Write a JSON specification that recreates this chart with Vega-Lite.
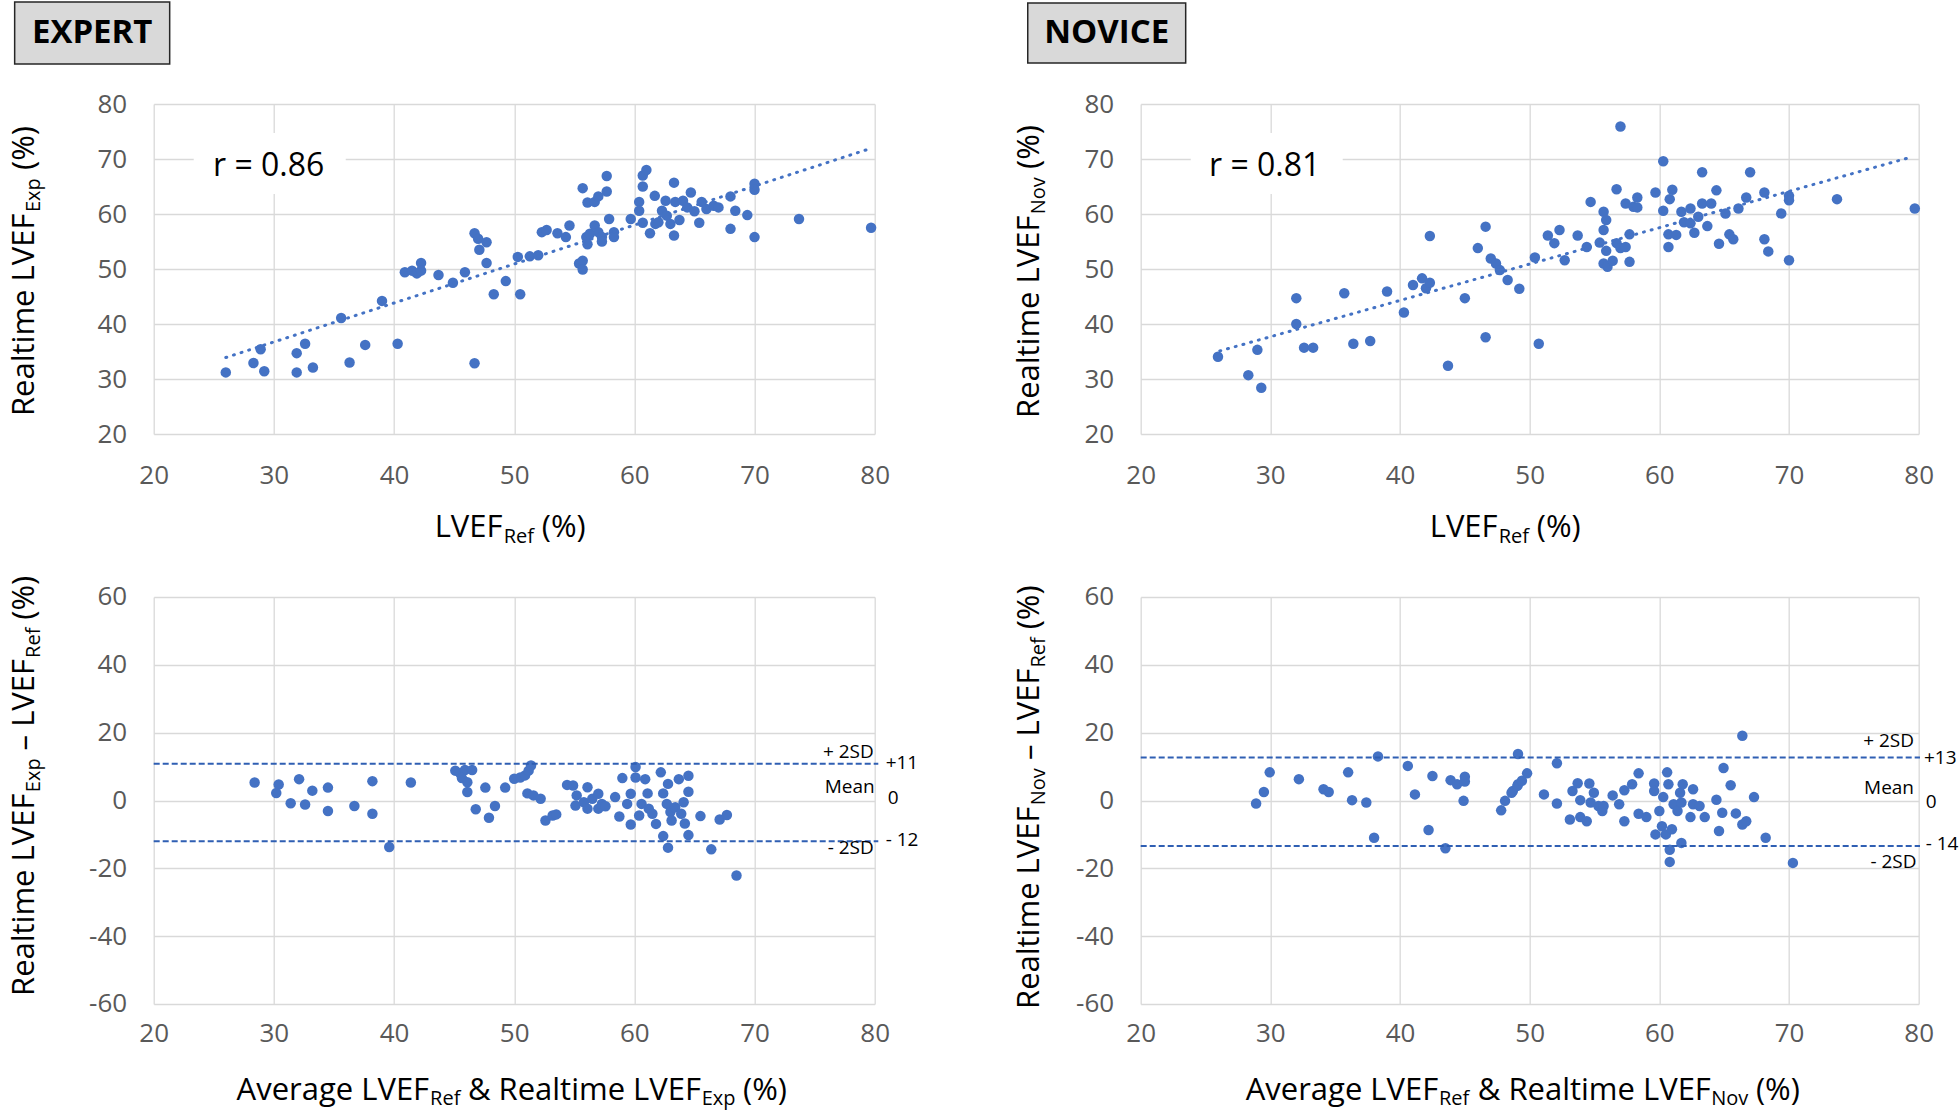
{
"$schema": "https://vega.github.io/schema/vega-lite/v6.json",
"background": "white",
"padding": {"left": 8.7, "top": 1, "right": 0, "bottom": 0},
"config": {
  "font": "Open Sans",
  "view": {"stroke": null},
  "axis": {"grid": true, "gridColor": "#d9d9d9", "gridWidth": 1.3, "ticks": false, "tickSize": 0, "domain": false, "labelFont": "Open Sans", "labelFontSize": 26, "labelColor": "#595959", "labelFlush": false, "labelOverlap": false},
  "axisY": {"labelPadding": 27}
},
"datasets": {
"tl": [{"x":26.0,"y":31.2},{"x":28.3,"y":32.9},{"x":28.9,"y":35.4},{"x":29.2,"y":31.4},{"x":31.9,"y":31.2},{"x":31.9,"y":34.7},{"x":32.6,"y":36.4},{"x":33.25,"y":32.1},{"x":35.6,"y":41.1},{"x":36.3,"y":33.0},{"x":37.6,"y":36.2},{"x":39.0,"y":44.2},{"x":40.3,"y":36.4},{"x":40.9,"y":49.4},{"x":41.5,"y":49.7},{"x":41.9,"y":49.2},{"x":42.25,"y":51.1},{"x":42.25,"y":49.7},{"x":43.7,"y":48.9},{"x":44.9,"y":47.5},{"x":45.9,"y":49.4},{"x":46.7,"y":56.5},{"x":47.0,"y":55.5},{"x":47.7,"y":54.85},{"x":47.1,"y":53.5},{"x":47.7,"y":51.1},{"x":48.3,"y":45.4},{"x":49.3,"y":47.8},{"x":50.3,"y":52.2},{"x":50.5,"y":45.4},{"x":46.7,"y":32.85},{"x":51.3,"y":52.3},{"x":52.0,"y":52.5},{"x":52.3,"y":56.7},{"x":52.7,"y":57.1},{"x":53.6,"y":56.5},{"x":54.3,"y":55.8},{"x":54.6,"y":57.9},{"x":55.4,"y":51.0},{"x":55.7,"y":51.5},{"x":55.7,"y":49.9},{"x":55.7,"y":64.7},{"x":56.1,"y":62.1},{"x":56.7,"y":62.2},{"x":57.0,"y":63.2},{"x":57.7,"y":64.1},{"x":57.7,"y":66.9},{"x":56.0,"y":55.8},{"x":56.1,"y":54.5},{"x":56.3,"y":56.4},{"x":56.7,"y":57.9},{"x":57.0,"y":56.7},{"x":57.3,"y":55.8},{"x":57.3,"y":55.0},{"x":58.3,"y":56.7},{"x":58.3,"y":55.8},{"x":57.9,"y":59.1},{"x":59.7,"y":59.1},{"x":60.4,"y":62.2},{"x":60.4,"y":60.6},{"x":60.7,"y":65.0},{"x":60.7,"y":67.0},{"x":61.0,"y":68.0},{"x":60.7,"y":58.4},{"x":61.3,"y":56.5},{"x":61.7,"y":63.3},{"x":61.75,"y":58.2},{"x":62.0,"y":58.5},{"x":62.3,"y":60.6},{"x":62.6,"y":62.4},{"x":62.7,"y":59.7},{"x":63.0,"y":58.2},{"x":63.3,"y":65.7},{"x":63.3,"y":56.1},{"x":63.4,"y":62.2},{"x":63.75,"y":58.9},{"x":64.05,"y":62.4},{"x":64.4,"y":61.2},{"x":64.7,"y":63.9},{"x":65.0,"y":60.5},{"x":65.4,"y":58.4},{"x":65.6,"y":62.2},{"x":66.0,"y":60.9},{"x":66.6,"y":61.5},{"x":67.0,"y":61.2},{"x":68.0,"y":63.2},{"x":68.0,"y":57.3},{"x":68.4,"y":60.6},{"x":69.4,"y":59.8},{"x":70.0,"y":65.5},{"x":70.0,"y":64.4},{"x":70.0,"y":55.8},{"x":73.7,"y":59.1},{"x":79.7,"y":57.5}],
"tr": [{"x":25.96,"y":34.06},{"x":28.3,"y":30.7},{"x":29.0,"y":35.3},{"x":29.3,"y":28.4},{"x":32.0,"y":44.7},{"x":32.0,"y":40.0},{"x":32.6,"y":35.7},{"x":33.3,"y":35.7},{"x":35.7,"y":45.6},{"x":36.4,"y":36.4},{"x":37.7,"y":36.9},{"x":39.0,"y":45.9},{"x":40.3,"y":42.1},{"x":41.0,"y":47.1},{"x":41.7,"y":48.3},{"x":42.0,"y":46.5},{"x":42.3,"y":47.5},{"x":42.3,"y":56.0},{"x":43.7,"y":32.4},{"x":45.0,"y":44.7},{"x":46.0,"y":53.8},{"x":46.6,"y":57.7},{"x":46.6,"y":37.6},{"x":47.0,"y":51.9},{"x":47.4,"y":51.0},{"x":47.7,"y":49.8},{"x":48.3,"y":48.0},{"x":49.2,"y":46.4},{"x":50.4,"y":52.1},{"x":50.7,"y":36.4},{"x":51.4,"y":56.1},{"x":51.9,"y":54.7},{"x":52.3,"y":57.1},{"x":52.7,"y":51.6},{"x":53.7,"y":56.1},{"x":54.4,"y":54.0},{"x":54.7,"y":62.2},{"x":55.4,"y":54.8},{"x":55.7,"y":60.4},{"x":55.7,"y":57.1},{"x":55.9,"y":58.9},{"x":55.9,"y":53.3},{"x":55.7,"y":51.0},{"x":56.0,"y":50.4},{"x":56.4,"y":51.5},{"x":56.7,"y":54.7},{"x":57.0,"y":75.9},{"x":56.7,"y":64.5},{"x":57.0,"y":53.8},{"x":57.4,"y":61.9},{"x":57.4,"y":54.0},{"x":57.7,"y":56.3},{"x":57.7,"y":51.3},{"x":58.0,"y":61.3},{"x":58.3,"y":63.0},{"x":58.3,"y":61.2},{"x":59.7,"y":63.9},{"x":60.3,"y":69.6},{"x":60.3,"y":60.6},{"x":60.7,"y":56.3},{"x":60.7,"y":54.0},{"x":60.8,"y":62.7},{"x":61.0,"y":64.4},{"x":61.3,"y":56.2},{"x":61.7,"y":60.4},{"x":61.9,"y":58.5},{"x":62.4,"y":61.0},{"x":62.4,"y":58.3},{"x":62.7,"y":56.6},{"x":63.0,"y":59.5},{"x":63.3,"y":67.6},{"x":63.3,"y":61.9},{"x":63.7,"y":57.8},{"x":64.0,"y":61.9},{"x":64.4,"y":64.3},{"x":64.6,"y":54.6},{"x":65.1,"y":60.1},{"x":65.4,"y":56.3},{"x":65.7,"y":55.4},{"x":66.1,"y":61.0},{"x":66.7,"y":63.0},{"x":67.0,"y":67.6},{"x":68.1,"y":63.9},{"x":68.1,"y":55.4},{"x":68.4,"y":53.2},{"x":69.4,"y":60.1},{"x":70.0,"y":63.3},{"x":70.0,"y":62.5},{"x":70.0,"y":51.6},{"x":73.7,"y":62.7},{"x":79.7,"y":61.0}],
"bl": [{"x":28.4,"y":5.3},{"x":30.4,"y":4.7},{"x":30.2,"y":2.2},{"x":31.4,"y":-0.8},{"x":32.1,"y":6.3},{"x":32.6,"y":-1.2},{"x":33.2,"y":2.9},{"x":34.5,"y":3.8},{"x":34.5,"y":-3.1},{"x":36.7,"y":-1.6},{"x":38.2,"y":5.7},{"x":38.2,"y":-3.9},{"x":39.6,"y":-13.7},{"x":41.4,"y":5.3},{"x":45.1,"y":8.8},{"x":45.5,"y":8.0},{"x":45.9,"y":9.0},{"x":46.5,"y":9.0},{"x":45.65,"y":6.6},{"x":46.1,"y":5.4},{"x":46.1,"y":2.5},{"x":46.8,"y":-2.6},{"x":47.6,"y":3.8},{"x":48.4,"y":-1.6},{"x":47.9,"y":-5.1},{"x":49.25,"y":3.8},{"x":50.0,"y":6.4},{"x":50.5,"y":6.8},{"x":50.9,"y":7.4},{"x":51.2,"y":8.8},{"x":51.4,"y":10.3},{"x":51.1,"y":2.1},{"x":51.6,"y":1.5},{"x":52.2,"y":0.5},{"x":52.6,"y":-5.9},{"x":53.2,"y":-4.4},{"x":53.5,"y":-4.1},{"x":54.4,"y":4.6},{"x":54.9,"y":4.4},{"x":55.1,"y":-1.5},{"x":55.2,"y":1.5},{"x":56.1,"y":3.9},{"x":55.8,"y":-0.5},{"x":56.1,"y":-2.4},{"x":56.5,"y":0.5},{"x":57.0,"y":2.0},{"x":57.0,"y":-2.4},{"x":57.3,"y":-1.0},{"x":57.6,"y":-1.7},{"x":58.4,"y":1.0},{"x":58.75,"y":-4.7},{"x":59.0,"y":6.6},{"x":59.4,"y":-1.0},{"x":59.7,"y":-7.1},{"x":59.7,"y":2.0},{"x":60.1,"y":9.9},{"x":60.1,"y":6.8},{"x":60.4,"y":-4.4},{"x":60.6,"y":-1.0},{"x":60.9,"y":6.3},{"x":61.1,"y":2.1},{"x":61.2,"y":-2.4},{"x":61.8,"y":-6.9},{"x":61.5,"y":-3.9},{"x":62.2,"y":8.3},{"x":62.4,"y":2.1},{"x":62.4,"y":-10.5},{"x":62.8,"y":4.9},{"x":62.8,"y":-13.9},{"x":62.7,"y":-1.0},{"x":63.0,"y":-3.4},{"x":63.1,"y":-5.9},{"x":63.4,"y":-2.0},{"x":63.7,"y":6.3},{"x":63.9,"y":-3.9},{"x":64.1,"y":-0.5},{"x":64.2,"y":-6.8},{"x":64.5,"y":7.3},{"x":64.5,"y":2.6},{"x":64.5,"y":-10.2},{"x":65.5,"y":-4.6},{"x":66.4,"y":-14.4},{"x":67.1,"y":-5.6},{"x":67.7,"y":-4.3},{"x":68.5,"y":-22.1}],
"br": [{"x":28.9,"y":-0.9},{"x":29.5,"y":2.5},{"x":29.95,"y":8.3},{"x":32.2,"y":6.3},{"x":34.1,"y":3.3},{"x":34.5,"y":2.5},{"x":36.0,"y":8.3},{"x":36.3,"y":0.1},{"x":37.4,"y":-0.6},{"x":38.0,"y":-11.0},{"x":38.3,"y":13.0},{"x":40.6,"y":10.2},{"x":41.15,"y":1.8},{"x":42.2,"y":-8.7},{"x":42.5,"y":7.2},{"x":43.5,"y":-14.1},{"x":43.9,"y":6.0},{"x":44.4,"y":4.8},{"x":45.0,"y":7.0},{"x":45.0,"y":5.6},{"x":44.9,"y":-0.1},{"x":47.8,"y":-2.9},{"x":48.1,"y":-0.1},{"x":48.6,"y":2.3},{"x":49.1,"y":4.8},{"x":49.1,"y":13.7},{"x":48.7,"y":2.8},{"x":49.05,"y":4.3},{"x":49.4,"y":5.8},{"x":49.8,"y":8.0},{"x":51.1,"y":1.8},{"x":52.1,"y":11.0},{"x":52.1,"y":-0.9},{"x":53.1,"y":-5.6},{"x":53.3,"y":2.8},{"x":53.7,"y":5.1},{"x":53.9,"y":-4.9},{"x":53.9,"y":0.1},{"x":54.4,"y":-6.1},{"x":54.6,"y":5.0},{"x":54.7,"y":-0.6},{"x":54.95,"y":2.3},{"x":55.3,"y":-1.6},{"x":55.6,"y":-3.1},{"x":55.7,"y":-1.6},{"x":56.4,"y":1.5},{"x":56.9,"y":-1.1},{"x":57.3,"y":3.0},{"x":57.3,"y":-6.1},{"x":57.9,"y":4.8},{"x":58.4,"y":8.0},{"x":58.4,"y":-3.9},{"x":59.0,"y":-4.9},{"x":59.6,"y":5.0},{"x":59.6,"y":2.8},{"x":59.7,"y":-10.0},{"x":60.0,"y":-3.1},{"x":60.3,"y":1.0},{"x":60.2,"y":-7.6},{"x":60.5,"y":-10.0},{"x":60.6,"y":8.3},{"x":60.7,"y":4.8},{"x":60.8,"y":-14.5},{"x":60.8,"y":-18.1},{"x":60.97,"y":-8.5},{"x":61.1,"y":-1.1},{"x":61.4,"y":-3.1},{"x":61.6,"y":2.3},{"x":61.7,"y":-12.5},{"x":61.8,"y":4.8},{"x":61.7,"y":-0.6},{"x":62.4,"y":-4.9},{"x":62.6,"y":3.3},{"x":62.6,"y":-1.1},{"x":63.1,"y":-1.6},{"x":63.5,"y":-4.9},{"x":64.4,"y":0.2},{"x":64.6,"y":-9.0},{"x":64.85,"y":-3.6},{"x":64.95,"y":9.6},{"x":65.5,"y":4.5},{"x":65.9,"y":-3.8},{"x":66.4,"y":-7.1},{"x":66.7,"y":-6.1},{"x":66.4,"y":19.1},{"x":67.3,"y":1.0},{"x":68.2,"y":-11.0},{"x":70.3,"y":-18.4}],
"ann": [
{"p":"TL","k":"ym","x":10.06,"y":23.27,"t":"Realtime LVEF"},
{"p":"TL","k":"ys","x":10.56,"y":60.36,"t":"Exp"},
{"p":"TL","k":"ym","x":10.06,"y":68.0,"t":"(%)"},
{"p":"TL","k":"tm","x":43.38,"y":1.27,"t":"LVEF"},
{"p":"TL","k":"ts","x":49.13,"y":0.18,"t":"Ref"},
{"p":"TL","k":"tm","x":52.30,"y":1.27,"t":"(%)"},
{"p":"TL","k":"r","x":29.57,"y":68.73,"t":"r = 0.86"},
{"p":"TL","k":"wb","x":23.33,"x2":35.98,"y":74.73,"y2":63.64},
{"p":"TL","k":"bx","x":8.43,"x2":21.33,"y":98.55,"y2":87.27},
{"p":"TL","k":"bt","x":14.88,"y":92.91,"t":"EXPERT"},
{"p":"TL","k":"trend","x":26.0,"y":33.9},
{"p":"TL","k":"trend","x":79.5,"y":71.8},
{"p":"TR","k":"ym","x":12.13,"y":22.91,"t":"Realtime LVEF"},
{"p":"TR","k":"ys","x":12.60,"y":59.96,"t":"Nov"},
{"p":"TR","k":"ym","x":12.13,"y":68.18,"t":"(%)"},
{"p":"TR","k":"tm","x":42.29,"y":1.27,"t":"LVEF"},
{"p":"TR","k":"ts","x":47.61,"y":0.18,"t":"Ref"},
{"p":"TR","k":"tm","x":50.55,"y":1.27,"t":"(%)"},
{"p":"TR","k":"r","x":29.56,"y":68.73,"t":"r = 0.81"},
{"p":"TR","k":"wb","x":23.86,"x2":35.58,"y":74.73,"y2":63.64},
{"p":"TR","k":"bx","x":11.29,"x2":23.47,"y":98.36,"y2":87.45},
{"p":"TR","k":"bt","x":17.38,"y":92.91,"t":"NOVICE"},
{"p":"TR","k":"trend","x":26.1,"y":35.1},
{"p":"TR","k":"trend","x":79.35,"y":70.3},
{"p":"BL","k":"ym","x":10.06,"y":-57.64,"t":"Realtime LVEF"},
{"p":"BL","k":"ys","x":10.56,"y":2.45,"t":"Exp"},
{"p":"BL","k":"ym","x":10.06,"y":14.77,"t":"– LVEF"},
{"p":"BL","k":"ys","x":10.56,"y":42.04,"t":"Ref"},
{"p":"BL","k":"ym","x":10.06,"y":53.31,"t":"(%)"},
{"p":"BL","k":"tm","x":26.9,"y":-88.16,"t":"Average LVEF"},
{"p":"BL","k":"ts","x":43.0,"y":-89.92,"t":"Ref"},
{"p":"BL","k":"tm","x":46.15,"y":-88.16,"t":"& Realtime LVEF"},
{"p":"BL","k":"ts","x":65.6,"y":-89.92,"t":"Exp"},
{"p":"BL","k":"tm","x":69.05,"y":-88.16,"t":"(%)"},
{"p":"BL","k":"lr","x":79.92,"y":14.39,"t":"+ 2SD"},
{"p":"BL","k":"ll","x":80.91,"y":11.06,"t":"+11"},
{"p":"BL","k":"lr","x":80.0,"y":3.98,"t":"Mean"},
{"p":"BL","k":"ll","x":81.08,"y":0.74,"t":"0"},
{"p":"BL","k":"ll","x":80.91,"y":-11.65,"t":"- 12"},
{"p":"BL","k":"lr","x":79.92,"y":-13.92,"t":"- 2SD"},
{"p":"BL","k":"lim","x":20,"x2":80.3,"y":10.8},
{"p":"BL","k":"lim","x":20,"x2":80.3,"y":-12.0},
{"p":"BR","k":"ym","x":12.13,"y":-61.47,"t":"Realtime LVEF"},
{"p":"BR","k":"ys","x":12.60,"y":-1.39,"t":"Nov"},
{"p":"BR","k":"ym","x":12.13,"y":11.94,"t":"– LVEF"},
{"p":"BR","k":"ys","x":12.60,"y":39.21,"t":"Ref"},
{"p":"BR","k":"ym","x":12.13,"y":50.48,"t":"(%)"},
{"p":"BR","k":"tm","x":28.1,"y":-88.16,"t":"Average LVEF"},
{"p":"BR","k":"ts","x":43.0,"y":-89.92,"t":"Ref"},
{"p":"BR","k":"tm","x":46.0,"y":-88.16,"t":"& Realtime LVEF"},
{"p":"BR","k":"ts","x":64.0,"y":-89.92,"t":"Nov"},
{"p":"BR","k":"tm","x":67.45,"y":-88.16,"t":"(%)"},
{"p":"BR","k":"lr","x":79.64,"y":17.54,"t":"+ 2SD"},
{"p":"BR","k":"ll","x":80.41,"y":12.62,"t":"+13"},
{"p":"BR","k":"lr","x":79.64,"y":3.77,"t":"Mean"},
{"p":"BR","k":"ll","x":80.54,"y":-0.35,"t":"0"},
{"p":"BR","k":"ll","x":80.54,"y":-12.91,"t":"- 14"},
{"p":"BR","k":"lr","x":79.83,"y":-18.04,"t":"- 2SD"},
{"p":"BR","k":"lim","x":20,"x2":80.1,"y":12.7},
{"p":"BR","k":"lim","x":20,"x2":80.1,"y":-13.4}
]
},
"columns": 2,
"bounds": "flush",
"spacing": {"row": 163, "column": 266},
"concat": [
{
 "width": 721, "height": 330,
 "encoding": {
  "x": {"field": "x", "type": "quantitative", "scale": {"domain": [20, 80], "nice": false, "zero": false}, "axis": {"title": null, "values": [20,30,40,50,60,70,80], "labelPadding": 28, "labelExpr": "'' + datum.value"}},
  "y": {"field": "y", "type": "quantitative", "scale": {"domain": [20, 80], "nice": false, "zero": false}, "axis": {"title": null, "values": [20,30,40,50,60,70,80], "labelExpr": "'' + datum.value"}}
 },
 "layer": [
  {"data": {"name": "ann"}, "transform": [{"filter": "datum.p==='TL' && datum.k==='wb'"}], "mark": {"type": "rect", "fill": "white", "strokeWidth": 0}, "encoding": {"x2": {"field": "x2"}, "y2": {"field": "y2"}}},
  {"data": {"name": "ann"}, "transform": [{"filter": "datum.p==='TL' && datum.k==='bx'"}], "mark": {"type": "rect", "fill": "#d9d9d9", "stroke": "#262626", "strokeWidth": 1.5}, "encoding": {"x2": {"field": "x2"}, "y2": {"field": "y2"}}},
  {"data": {"name": "tl"}, "mark": {"type": "circle", "size": 110, "color": "#4472C4", "opacity": 1}},
  {"data": {"name": "ann"}, "transform": [{"filter": "datum.p==='TL' && datum.k==='trend'"}], "mark": {"type": "line", "color": "#4472C4", "strokeWidth": 3, "strokeDash": [1, 7], "strokeCap": "round"}},
  {"data": {"name": "ann"}, "transform": [{"filter": "datum.p==='TL' && datum.k==='tm'"}], "mark": {"type": "text", "align": "left", "baseline": "alphabetic", "fontSize": 31, "color": "#000000"}, "encoding": {"text": {"field": "t"}}},
  {"data": {"name": "ann"}, "transform": [{"filter": "datum.p==='TL' && datum.k==='ts'"}], "mark": {"type": "text", "align": "left", "baseline": "alphabetic", "fontSize": 20, "color": "#000000"}, "encoding": {"text": {"field": "t"}}},
  {"data": {"name": "ann"}, "transform": [{"filter": "datum.p==='TL' && datum.k==='ym'"}], "mark": {"type": "text", "align": "left", "baseline": "alphabetic", "angle": 270, "fontSize": 31, "color": "#000000"}, "encoding": {"text": {"field": "t"}}},
  {"data": {"name": "ann"}, "transform": [{"filter": "datum.p==='TL' && datum.k==='ys'"}], "mark": {"type": "text", "align": "left", "baseline": "alphabetic", "angle": 270, "fontSize": 20, "color": "#000000"}, "encoding": {"text": {"field": "t"}}},
  {"data": {"name": "ann"}, "transform": [{"filter": "datum.p==='TL' && datum.k==='r'"}], "mark": {"type": "text", "align": "center", "baseline": "middle", "fontSize": 32, "color": "#000000"}, "encoding": {"text": {"field": "t"}}},
  {"data": {"name": "ann"}, "transform": [{"filter": "datum.p==='TL' && datum.k==='bt'"}], "mark": {"type": "text", "align": "center", "baseline": "middle", "fontSize": 33, "fontWeight": "bold", "color": "#000000"}, "encoding": {"text": {"field": "t"}}}
 ]
},
{
 "width": 778, "height": 330,
 "encoding": {
  "x": {"field": "x", "type": "quantitative", "scale": {"domain": [20, 80], "nice": false, "zero": false}, "axis": {"title": null, "values": [20,30,40,50,60,70,80], "labelPadding": 28, "labelExpr": "'' + datum.value"}},
  "y": {"field": "y", "type": "quantitative", "scale": {"domain": [20, 80], "nice": false, "zero": false}, "axis": {"title": null, "values": [20,30,40,50,60,70,80], "labelExpr": "'' + datum.value"}}
 },
 "layer": [
  {"data": {"name": "ann"}, "transform": [{"filter": "datum.p==='TR' && datum.k==='wb'"}], "mark": {"type": "rect", "fill": "white", "strokeWidth": 0}, "encoding": {"x2": {"field": "x2"}, "y2": {"field": "y2"}}},
  {"data": {"name": "ann"}, "transform": [{"filter": "datum.p==='TR' && datum.k==='bx'"}], "mark": {"type": "rect", "fill": "#d9d9d9", "stroke": "#262626", "strokeWidth": 1.5}, "encoding": {"x2": {"field": "x2"}, "y2": {"field": "y2"}}},
  {"data": {"name": "tr"}, "mark": {"type": "circle", "size": 110, "color": "#4472C4", "opacity": 1}},
  {"data": {"name": "ann"}, "transform": [{"filter": "datum.p==='TR' && datum.k==='trend'"}], "mark": {"type": "line", "color": "#4472C4", "strokeWidth": 3, "strokeDash": [1, 7], "strokeCap": "round"}},
  {"data": {"name": "ann"}, "transform": [{"filter": "datum.p==='TR' && datum.k==='tm'"}], "mark": {"type": "text", "align": "left", "baseline": "alphabetic", "fontSize": 31, "color": "#000000"}, "encoding": {"text": {"field": "t"}}},
  {"data": {"name": "ann"}, "transform": [{"filter": "datum.p==='TR' && datum.k==='ts'"}], "mark": {"type": "text", "align": "left", "baseline": "alphabetic", "fontSize": 20, "color": "#000000"}, "encoding": {"text": {"field": "t"}}},
  {"data": {"name": "ann"}, "transform": [{"filter": "datum.p==='TR' && datum.k==='ym'"}], "mark": {"type": "text", "align": "left", "baseline": "alphabetic", "angle": 270, "fontSize": 31, "color": "#000000"}, "encoding": {"text": {"field": "t"}}},
  {"data": {"name": "ann"}, "transform": [{"filter": "datum.p==='TR' && datum.k==='ys'"}], "mark": {"type": "text", "align": "left", "baseline": "alphabetic", "angle": 270, "fontSize": 20, "color": "#000000"}, "encoding": {"text": {"field": "t"}}},
  {"data": {"name": "ann"}, "transform": [{"filter": "datum.p==='TR' && datum.k==='r'"}], "mark": {"type": "text", "align": "center", "baseline": "middle", "fontSize": 32, "color": "#000000"}, "encoding": {"text": {"field": "t"}}},
  {"data": {"name": "ann"}, "transform": [{"filter": "datum.p==='TR' && datum.k==='bt'"}], "mark": {"type": "text", "align": "center", "baseline": "middle", "fontSize": 33, "fontWeight": "bold", "color": "#000000"}, "encoding": {"text": {"field": "t"}}}
 ]
},
{
 "width": 721, "height": 407,
 "encoding": {
  "x": {"field": "x", "type": "quantitative", "scale": {"domain": [20, 80], "nice": false, "zero": false}, "axis": {"title": null, "values": [20,30,40,50,60,70,80], "labelPadding": 17, "labelExpr": "'' + datum.value"}},
  "y": {"field": "y", "type": "quantitative", "scale": {"domain": [-60, 60], "nice": false, "zero": false}, "axis": {"title": null, "values": [-60,-40,-20,0,20,40,60], "labelExpr": "'' + datum.value"}}
 },
 "layer": [
  {"data": {"name": "bl"}, "mark": {"type": "circle", "size": 110, "color": "#4472C4", "opacity": 1}},
  {"data": {"name": "ann"}, "transform": [{"filter": "datum.p==='BL' && datum.k==='lim'"}], "mark": {"type": "rule", "color": "#2F5FB3", "strokeWidth": 2, "strokeDash": [6, 3]}, "encoding": {"x2": {"field": "x2"}}},
  {"data": {"name": "ann"}, "transform": [{"filter": "datum.p==='BL' && datum.k==='tm'"}], "mark": {"type": "text", "align": "left", "baseline": "alphabetic", "fontSize": 31, "color": "#000000"}, "encoding": {"text": {"field": "t"}}},
  {"data": {"name": "ann"}, "transform": [{"filter": "datum.p==='BL' && datum.k==='ts'"}], "mark": {"type": "text", "align": "left", "baseline": "alphabetic", "fontSize": 20, "color": "#000000"}, "encoding": {"text": {"field": "t"}}},
  {"data": {"name": "ann"}, "transform": [{"filter": "datum.p==='BL' && datum.k==='ym'"}], "mark": {"type": "text", "align": "left", "baseline": "alphabetic", "angle": 270, "fontSize": 31, "color": "#000000"}, "encoding": {"text": {"field": "t"}}},
  {"data": {"name": "ann"}, "transform": [{"filter": "datum.p==='BL' && datum.k==='ys'"}], "mark": {"type": "text", "align": "left", "baseline": "alphabetic", "angle": 270, "fontSize": 20, "color": "#000000"}, "encoding": {"text": {"field": "t"}}},
  {"data": {"name": "ann"}, "transform": [{"filter": "datum.p==='BL' && datum.k==='lr'"}], "mark": {"type": "text", "align": "right", "baseline": "middle", "fontSize": 19, "color": "#000000"}, "encoding": {"text": {"field": "t"}}},
  {"data": {"name": "ann"}, "transform": [{"filter": "datum.p==='BL' && datum.k==='ll'"}], "mark": {"type": "text", "align": "left", "baseline": "middle", "fontSize": 19, "color": "#000000"}, "encoding": {"text": {"field": "t"}}}
 ]
},
{
 "width": 778, "height": 407,
 "encoding": {
  "x": {"field": "x", "type": "quantitative", "scale": {"domain": [20, 80], "nice": false, "zero": false}, "axis": {"title": null, "values": [20,30,40,50,60,70,80], "labelPadding": 17, "labelExpr": "'' + datum.value"}},
  "y": {"field": "y", "type": "quantitative", "scale": {"domain": [-60, 60], "nice": false, "zero": false}, "axis": {"title": null, "values": [-60,-40,-20,0,20,40,60], "labelExpr": "'' + datum.value"}}
 },
 "layer": [
  {"data": {"name": "br"}, "mark": {"type": "circle", "size": 110, "color": "#4472C4", "opacity": 1}},
  {"data": {"name": "ann"}, "transform": [{"filter": "datum.p==='BR' && datum.k==='lim'"}], "mark": {"type": "rule", "color": "#2F5FB3", "strokeWidth": 2, "strokeDash": [6, 3]}, "encoding": {"x2": {"field": "x2"}}},
  {"data": {"name": "ann"}, "transform": [{"filter": "datum.p==='BR' && datum.k==='tm'"}], "mark": {"type": "text", "align": "left", "baseline": "alphabetic", "fontSize": 31, "color": "#000000"}, "encoding": {"text": {"field": "t"}}},
  {"data": {"name": "ann"}, "transform": [{"filter": "datum.p==='BR' && datum.k==='ts'"}], "mark": {"type": "text", "align": "left", "baseline": "alphabetic", "fontSize": 20, "color": "#000000"}, "encoding": {"text": {"field": "t"}}},
  {"data": {"name": "ann"}, "transform": [{"filter": "datum.p==='BR' && datum.k==='ym'"}], "mark": {"type": "text", "align": "left", "baseline": "alphabetic", "angle": 270, "fontSize": 31, "color": "#000000"}, "encoding": {"text": {"field": "t"}}},
  {"data": {"name": "ann"}, "transform": [{"filter": "datum.p==='BR' && datum.k==='ys'"}], "mark": {"type": "text", "align": "left", "baseline": "alphabetic", "angle": 270, "fontSize": 20, "color": "#000000"}, "encoding": {"text": {"field": "t"}}},
  {"data": {"name": "ann"}, "transform": [{"filter": "datum.p==='BR' && datum.k==='lr'"}], "mark": {"type": "text", "align": "right", "baseline": "middle", "fontSize": 19, "color": "#000000"}, "encoding": {"text": {"field": "t"}}},
  {"data": {"name": "ann"}, "transform": [{"filter": "datum.p==='BR' && datum.k==='ll'"}], "mark": {"type": "text", "align": "left", "baseline": "middle", "fontSize": 19, "color": "#000000"}, "encoding": {"text": {"field": "t"}}}
 ]
}
]
}
